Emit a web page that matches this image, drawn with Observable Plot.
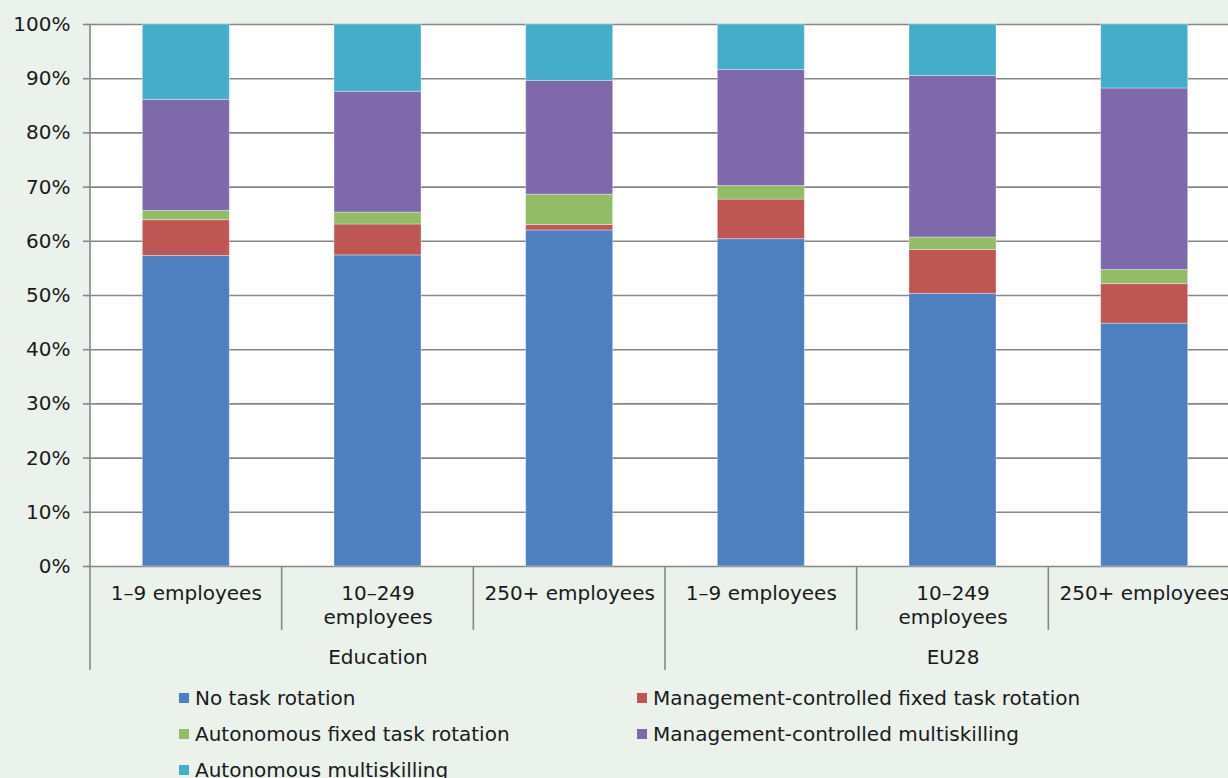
<!DOCTYPE html>
<html>
<head>
<meta charset="utf-8">
<script src="https://cdn.jsdelivr.net/npm/d3@7"></script>
<script src="https://cdn.jsdelivr.net/npm/@observablehq/plot@0.6"></script>
<style>
  html, body { margin: 0; padding: 0; background: #EBF1EB; overflow: hidden; width: 1228px; height: 778px; }
  #wrap { position: relative; width: 1228px; height: 778px; overflow: hidden; font-family: "DejaVu Sans", Verdana, sans-serif; color: #1a1a1a; }
  #chart { position: absolute; left: 0; top: 0; width: 1240px; }
  #chart svg { max-width: none !important; }
  #legend { position: absolute; left: 179px; top: 680px; display: grid; grid-template-columns: 458px auto; grid-auto-rows: 36px; font-size: 20px; }
  .item { display: flex; align-items: center; white-space: nowrap; }
  .sw { width: 10px; height: 10px; margin-right: 6px; flex: none; }
</style>
</head>
<body>
<div id="wrap">
  <div id="chart"></div>
  <div id="legend"></div>
</div>
<script>
const groups = ["Education", "EU28"];
const sizes = ["1–9 employees", "10–249 employees", "250+ employees"];
const sizeLabels = ["1–9 employees", "10–249\nemployees", "250+ employees"];
const series = [
  "No task rotation",
  "Management-controlled fixed task rotation",
  "Autonomous fixed task rotation",
  "Management-controlled multiskilling",
  "Autonomous multiskilling"
];
const colors = ["#4E80C0", "#BE5654", "#93BC68", "#7E69AA", "#45ADCA"];
const yTicks = [0, 10, 20, 30, 40, 50, 60, 70, 80, 90, 100];

// values per category in order: Education (1–9, 10–249, 250+), EU28 (1–9, 10–249, 250+)
const noRotation = [57.3, 57.4, 62.0, 60.4, 50.3, 44.8];
const mgmtFixed  = [6.6, 5.7, 1.0, 7.3, 8.1, 7.3];
const autoFixed  = [1.7, 2.2, 5.6, 2.5, 2.3, 2.6];
const mgmtMulti  = [20.5, 22.3, 21.0, 21.4, 29.8, 33.5];
const autoMulti  = [13.9, 12.4, 10.4, 8.4, 9.5, 11.8];
const seriesValues = [noRotation, mgmtFixed, autoFixed, mgmtMulti, autoMulti];

const cats = [];
groups.forEach(g => sizes.forEach((s, j) => cats.push({key: g + " · " + s, group: g, label: sizeLabels[j]})));
const keys = cats.map(c => c.key);
const table = [];
series.forEach((s, si) => cats.forEach((c, ci) => table.push({key: c.key, series: s, value: seriesValues[si][ci]})));
const groupRows = groups.map(g => ({group: g, key: g + " · " + sizes[1]}));

const FONT = '"DejaVu Sans", Verdana, sans-serif';
const GRID = "#878787";

const chart = Plot.plot({
  width: 1240,
  height: 680,
  marginTop: 24,
  marginBottom: 114,
  marginLeft: 90,
  marginRight: 0,
  style: {fontFamily: FONT, fontSize: "20px", color: "#1a1a1a", background: "transparent", overflow: "visible", maxWidth: "none"},
  x: {domain: keys, paddingInner: 0.546, paddingOuter: 0.273, round: false, axis: null},
  y: {domain: [0, 100], axis: null},
  color: {domain: series, range: colors},
  marks: [
    Plot.frame({fill: "white", stroke: null}),
    Plot.gridY(yTicks, {stroke: GRID, strokeOpacity: 1, strokeWidth: 1.6}),
    Plot.axisY(yTicks, {tickSize: 7, tickPadding: 13, tickFormat: d => d + "%", stroke: GRID, strokeWidth: 1.6, label: null, fontSize: 20}),
    Plot.barY(table, {x: "key", y: "value", fill: "series", stroke: "white", strokeOpacity: 0.35, strokeWidth: 1}),
    Plot.text(cats, {x: "key", text: "label", frameAnchor: "bottom", lineAnchor: "top", dy: 16, lineHeight: 1.2, fontSize: 20}),
    Plot.text(groupRows, {x: "key", text: "group", frameAnchor: "bottom", lineAnchor: "top", dy: 83, fontSize: 20})
  ]
});
chart.style.maxWidth = "none";
chart.setAttribute("width", 1240);

document.getElementById("chart").appendChild(chart);

// category separators, positioned through the x scale
const xs = chart.scale("x");
const ys = chart.scale("y");
const half = (xs.step - xs.bandwidth) / 2;
const yBase = ys.apply(0);
const yTop = ys.apply(100);
const seps = keys.map((k, i) => ({x: xs.apply(k) - half, kind: i === 0 ? "axis" : (i % 3 === 0 ? "group" : "cat")}));
seps.push({x: xs.apply(keys[keys.length - 1]) + xs.bandwidth + half, kind: "group"});
d3.select(chart).append("g")
  .attr("stroke", GRID).attr("stroke-width", 1.6)
  .selectAll("line").data(seps).join("line")
  .attr("x1", d => d.x).attr("x2", d => d.x)
  .attr("y1", d => d.kind === "axis" ? yTop : yBase)
  .attr("y2", d => d.kind === "cat" ? yBase + 64 : yBase + 104);

// legend
const legend = d3.select("#legend");
series.forEach((s, i) => {
  const it = legend.append("div").attr("class", "item");
  it.append("div").attr("class", "sw").style("background", colors[i]);
  it.append("span").text(s);
});
</script>
</body>
</html>
